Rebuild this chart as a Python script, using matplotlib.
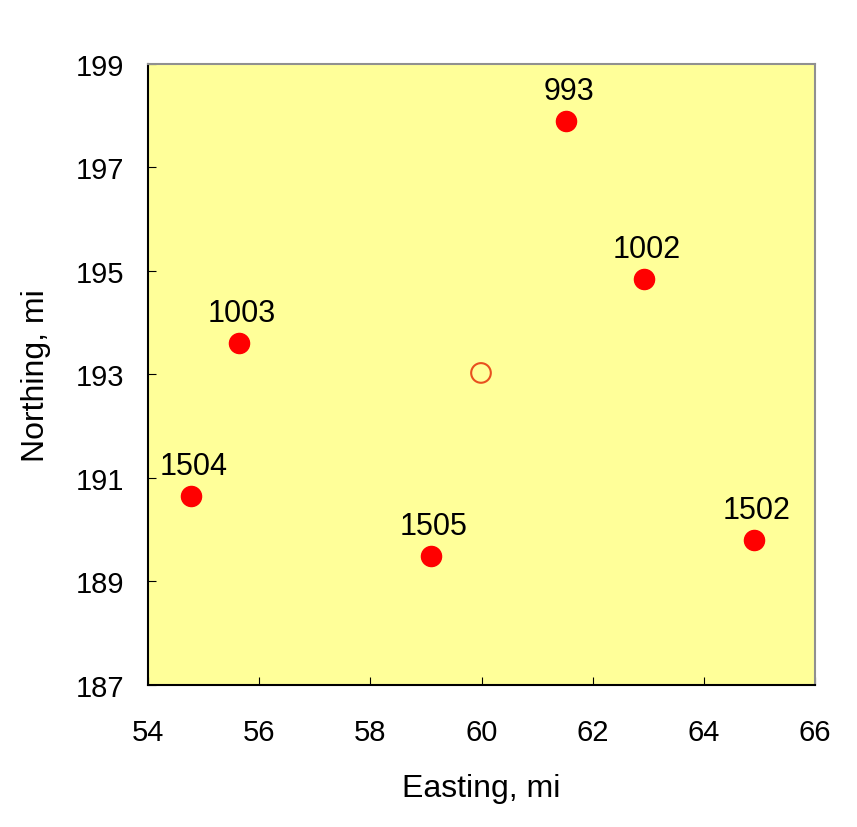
import matplotlib.pyplot as plt

plt.rcParams['font.family'] = ['Liberation Sans', 'DejaVu Sans']

# well locations (easting, northing in miles)
wells = ['993', '1002', '1003', '1504', '1505', '1502']
easting = [61.52, 62.92, 55.64, 54.77, 59.09, 64.90]
northing = [197.90, 194.85, 193.61, 190.65, 189.49, 189.80]

# estimated point (open circle)
est_x = [59.99]
est_y = [193.03]

fig = plt.figure(figsize=(8.57, 8.28), dpi=100)
ax = fig.add_axes([0.1727, 0.1715, 0.7784, 0.75])
ax.set_facecolor('#ffff99')

ax.scatter(easting, northing, s=210, color='red', zorder=3)
ax.scatter(est_x, est_y, s=200, facecolors='none', edgecolors='#e8501e', linewidths=1.5, zorder=3)

for name, x, y in zip(wells, easting, northing):
    ax.annotate(name, (x, y), xytext=(2, 16), textcoords='offset points',
                ha='center', va='baseline', fontsize=22)

ax.set_xlim(54, 66)
ax.set_ylim(187, 199)
ax.set_xticks(range(54, 67, 2))
ax.set_yticks(range(187, 200, 2))
ax.tick_params(direction='in', length=6, labelsize=21)
ax.tick_params(axis='x', pad=24)
ax.tick_params(axis='y', pad=17)
ax.set_xlabel('Easting, mi', fontsize=23)
ax.set_ylabel('Northing, mi', fontsize=23)
ax.xaxis.set_label_coords(0.5, -0.142)
ax.yaxis.set_label_coords(-0.146, 0.5)

for side in ['left', 'bottom']:
    ax.spines[side].set_color('black')
    ax.spines[side].set_linewidth(1.5)
for side in ['top', 'right']:
    ax.spines[side].set_color('#909090')
    ax.spines[side].set_linewidth(1.5)

fig.savefig('out.png', dpi=100)
